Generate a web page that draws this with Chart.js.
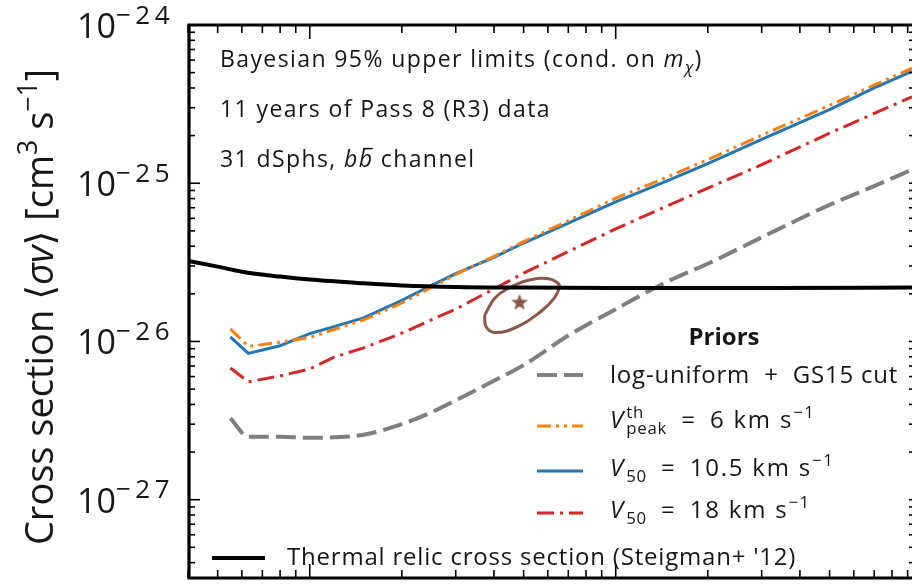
<!DOCTYPE html>
<html>
<head>
<meta charset="utf-8">
<script src="https://cdn.jsdelivr.net/npm/chart.js@4.4.1/dist/chart.umd.min.js"></script>
<style>
  html, body { margin: 0; padding: 0; background: #fff; }
</style>
</head>
<body>
<canvas id="chart" width="922" height="588"></canvas>
<script>
// dark matter mass grid [GeV] for the limit curves
const masses = [5.5, 6.3, 8, 10, 12, 15, 20, 25, 30, 40, 50, 70, 100, 150, 200, 300, 500, 700, 930];

// 95% upper limits on <sigma v> [cm^3 s^-1]
const logUniformGS15 = [3.28e-27, 2.50e-27, 2.50e-27, 2.46e-27, 2.48e-27, 2.57e-27, 3.00e-27, 3.57e-27, 4.24e-27, 5.64e-27, 7.09e-27, 1.09e-26, 1.60e-26, 2.43e-26, 3.10e-26, 4.55e-26, 7.30e-26, 9.60e-26, 1.22e-25];
const vpeak6 = [1.20e-26, 9.3e-27, 9.9e-27, 1.06e-26, 1.19e-26, 1.37e-26, 1.75e-26, 2.20e-26, 2.65e-26, 3.45e-26, 4.28e-26, 5.80e-26, 8.05e-26, 1.11e-25, 1.41e-25, 2.01e-25, 3.10e-25, 4.18e-25, 5.33e-25];
const v50_10p5 = [1.07e-26, 8.4e-27, 9.4e-27, 1.12e-26, 1.24e-26, 1.41e-26, 1.82e-26, 2.26e-26, 2.68e-26, 3.40e-26, 4.19e-26, 5.60e-26, 7.62e-26, 1.05e-25, 1.33e-25, 1.89e-25, 2.92e-25, 4.00e-25, 5.10e-25];
const v50_18 = [6.8e-27, 5.56e-27, 6.06e-27, 6.70e-27, 7.96e-27, 9.10e-27, 1.13e-26, 1.37e-26, 1.60e-26, 2.15e-26, 2.70e-26, 3.70e-26, 5.15e-26, 7.30e-26, 9.31e-26, 1.31e-25, 2.07e-25, 2.76e-25, 3.52e-25];

// thermal relic cross section (Steigman+ '12)
const relicMasses = [4, 5, 6, 8, 10, 15, 20, 30, 50, 100, 300, 930];
const relicXsec = [3.23e-26, 2.97e-26, 2.76e-26, 2.57e-26, 2.46e-26, 2.33e-26, 2.26e-26, 2.21e-26, 2.19e-26, 2.18e-26, 2.18e-26, 2.19e-26];

// GC excess region (contour) and best fit
const gceMasses = [37.3, 37.7, 40.3, 47.8, 56.8, 63.0, 65.4, 64.4, 59.8, 51.5, 44.4, 40.3, 37.3];
const gceXsec = [1.47e-26, 1.24e-26, 1.14e-26, 1.24e-26, 1.54e-26, 1.88e-26, 2.20e-26, 2.36e-26, 2.50e-26, 2.43e-26, 2.16e-26, 1.88e-26, 1.47e-26];
const gceBestMass = [48.5];
const gceBestXsec = [1.77e-26];

// y tick labels
const yTickValues = [1e-27, 1e-26, 1e-25, 1e-24];
const yTickExps = ['\u221227', '\u221226', '\u221225', '\u221224'];

const FONT = '"Open Sans", "DejaVu Sans", sans-serif';
const INK = '#161616';

const pts = (xs, ys) => xs.map((m, i) => ({ x: m, y: ys[i] }));

// filled five-point star for the best-fit marker
const starImg = document.createElement('canvas');
starImg.width = 20; starImg.height = 20;
(() => {
  const g = starImg.getContext('2d');
  g.fillStyle = '#8c564b';
  g.beginPath();
  for (let i = 0; i < 10; i++) {
    const r = i % 2 ? 3.8 : 8.8;
    const a = -Math.PI / 2 + i * Math.PI / 5;
    g.lineTo(10 + r * Math.cos(a), 10.5 + r * Math.sin(a));
  }
  g.closePath();
  g.fill();
})();

// draw text with italic / sup / sub pieces
// part: t text, i italic, b bold, s 'sup'|'sub', k size factor, ls letter spacing, stack (no advance), bar
function rich(ctx, x, y, parts, size, align, ls) {
  const sizeOf = p => p.k ? size * p.k : (p.s ? size * 0.7 : size);
  const setFont = p => {
    ctx.font = `${p.i ? 'italic ' : ''}${p.b ? 'bold ' : ''}${sizeOf(p)}px ${FONT}`;
    ctx.letterSpacing = `${p.ls !== undefined ? p.ls : (ls || 0)}px`;
  };
  let total = 0;
  const widths = parts.map(p => {
    setFont(p);
    const w = ctx.measureText(p.t).width;
    if (!p.stack) total += w;
    return w;
  });
  let cx = align === 'center' ? x - total / 2 : align === 'right' ? x - total : x;
  ctx.textAlign = 'left';
  ctx.textBaseline = 'alphabetic';
  parts.forEach((p, i) => {
    setFont(p);
    const dy = p.s === 'sup' ? -0.42 * size : p.s === 'sub' ? 0.24 * size : 0;
    ctx.fillText(p.t, cx, y + dy);
    if (p.bar) {
      ctx.save();
      ctx.lineWidth = 1.5;
      ctx.beginPath();
      ctx.moveTo(cx + widths[i] * 0.3, y - size * 0.8);
      ctx.lineTo(cx + widths[i] * 0.95, y - size * 0.8);
      ctx.stroke();
      ctx.restore();
    }
    if (!p.stack) cx += widths[i];
  });
  ctx.letterSpacing = '0px';
}

function seg(ctx, x1, y1, x2, y2) {
  ctx.beginPath(); ctx.moveTo(x1, y1); ctx.lineTo(x2, y2); ctx.stroke();
}

const decor = {
  id: 'decor',
  afterDraw(chart) {
    const { ctx, chartArea: a, scales: { x, y } } = chart;
    ctx.save();
    ctx.strokeStyle = '#000';
    ctx.fillStyle = INK;

    // inward ticks
    ctx.lineWidth = 1.6;
    for (let d = -28; d <= -24; d++) {
      for (let k = 1; k <= 9; k++) {
        const v = k * Math.pow(10, d);
        if (v < y.min || v > y.max * 1.001) continue;
        const py = y.getPixelForValue(v);
        const len = k === 1 ? 12 : 7;
        seg(ctx, a.left, py, a.left + len, py);
        seg(ctx, a.right, py, a.right - 3, py);
      }
    }
    for (let d = 0; d <= 2; d++) {
      for (let k = 1; k <= 9; k++) {
        const v = k * Math.pow(10, d);
        if (v < x.min || v > x.max) continue;
        const px = x.getPixelForValue(v);
        const len = k === 1 ? 14 : 8;
        seg(ctx, px, a.top, px, a.top + len);
        seg(ctx, px, a.bottom, px, a.bottom - len);
      }
    }

    // spines (right one is cropped away in the reference)
    ctx.lineWidth = 3.2;
    ctx.beginPath();
    ctx.moveTo(a.right, a.top);
    ctx.lineTo(a.left + 1, a.top);
    ctx.lineTo(a.left + 1, a.bottom);
    ctx.lineTo(a.right, a.bottom);
    ctx.stroke();

    // y tick labels 10^-n
    yTickValues.forEach((v, i) => {
      const py = y.getPixelForValue(v);
      rich(ctx, 174, py + 13, [{ t: '10', ls: 0 }, { t: yTickExps[i], s: 'sup', k: 26 / 34, ls: 4.5 }], 34, 'right');
    });

    // y axis title
    ctx.save();
    ctx.translate(53, 307);
    ctx.rotate(-Math.PI / 2);
    rich(ctx, 0, 0, [
      { t: 'Cross section \u27e8' }, { t: '\u03c3v', i: true }, { t: '\u27e9 [cm' },
      { t: '3', s: 'sup' }, { t: ' s' }, { t: '\u22121', s: 'sup' }, { t: ']' }
    ], 38, 'center');
    ctx.restore();

    // annotation text
    rich(ctx, 220, 67, [{ t: 'Bayesian 95% upper limits (cond. on ' }, { t: 'm', i: true }, { t: '\u03c7', i: true, s: 'sub' }, { t: ')' }], 23, 'left', 1.4);
    rich(ctx, 220, 117, [{ t: '11 years of Pass 8 (R3) data' }], 23, 'left', 1.4);
    rich(ctx, 220, 167, [{ t: '31 dSphs, ' }, { t: 'b', i: true }, { t: 'b', i: true, bar: true }, { t: ' channel' }], 23, 'left', 1.4);

    // legend
    const sample = (x1, x2, yy, color, width, dash) => {
      ctx.save();
      ctx.strokeStyle = color; ctx.lineWidth = width; ctx.setLineDash(dash);
      seg(ctx, x1, yy, x2, yy);
      ctx.restore();
    };
    ctx.font = `bold 24px ${FONT}`;
    ctx.textAlign = 'center';
    ctx.fillText('Priors', 724, 345);
    sample(537, 583, 375, '#7f7f7f', 4, [20, 7]);
    rich(ctx, 610, 383, [{ t: 'log-uniform' }, { t: '  +  ' }, { t: 'GS15 cut' }], 24, 'left', 0.8);
    sample(537, 583, 426, '#ff7f0e', 3, [14, 5, 3, 5, 3, 5]);
    rich(ctx, 610, 428, [{ t: 'V', i: true, ls: 3 }, { t: 'th', s: 'sup', stack: true }, { t: 'peak', s: 'sub' },
      { t: '  =  ' }, { t: '6 km s', ls: 1.8 }, { t: '\u22121', s: 'sup', ls: 1.5 }], 24, 'left', 0.8);
    sample(537, 583, 471, '#1f77b4', 3, []);
    rich(ctx, 610, 476, [{ t: 'V', i: true, ls: 3 }, { t: '50', s: 'sub' }, { t: '  =  ' }, { t: '10.5 km s', ls: 1.8 },
      { t: '\u22121', s: 'sup', ls: 1.5 }], 24, 'left', 0.8);
    sample(537, 583, 513, '#d62728', 3, [17, 6, 3, 6]);
    rich(ctx, 610, 518, [{ t: 'V', i: true, ls: 3 }, { t: '50', s: 'sub' }, { t: '  =  ' }, { t: '18 km s', ls: 1.8 },
      { t: '\u22121', s: 'sup', ls: 1.5 }], 24, 'left', 0.8);
    sample(212, 265, 558, '#000', 4, []);
    rich(ctx, 287, 565, [{ t: "Thermal relic cross section (Steigman+ '12)" }], 24, 'left', 0.8);

    ctx.restore();
  }
};

new Chart(document.getElementById('chart'), {
  type: 'line',
  data: {
    datasets: [
      { label: 'Thermal relic', data: pts(relicMasses, relicXsec), borderColor: '#000', borderWidth: 4,
        cubicInterpolationMode: 'monotone', pointRadius: 0, order: 0 },
      { label: 'GCE best fit', data: pts(gceBestMass, gceBestXsec), showLine: false,
        pointStyle: starImg, pointRadius: 9, order: 1 },
      { label: 'V_peak^th = 6', data: pts(masses, vpeak6), borderColor: '#ff7f0e', borderWidth: 3,
        borderDash: [14, 5, 3, 5, 3, 5], pointRadius: 0, order: 2 },
      { label: 'V_50 = 10.5', data: pts(masses, v50_10p5), borderColor: '#1f77b4', borderWidth: 3,
        pointRadius: 0, order: 3 },
      { label: 'V_50 = 18', data: pts(masses, v50_18), borderColor: '#d62728', borderWidth: 3,
        borderDash: [17, 6, 3, 6], pointRadius: 0, order: 4 },
      { label: 'log-uniform + GS15 cut', data: pts(masses, logUniformGS15), borderColor: '#7f7f7f', borderWidth: 4,
        borderDash: [20, 7], cubicInterpolationMode: 'monotone', pointRadius: 0, order: 5 },
      { label: 'GCE region', data: pts(gceMasses, gceXsec), borderColor: '#8c564b', borderWidth: 3,
        tension: 0.45, pointRadius: 0, order: 6 }
    ]
  },
  options: {
    responsive: false,
    animation: false,
    devicePixelRatio: 1,
    layout: { padding: { left: 188, top: 25, right: 4, bottom: 1 } },
    plugins: { legend: { display: false }, tooltip: { enabled: false } },
    scales: {
      x: { type: 'logarithmic', min: 4, max: 930, display: false },
      y: { type: 'logarithmic', min: 3.2e-28, max: 1e-24, display: false }
    }
  },
  plugins: [decor]
});
</script>
</body>
</html>
